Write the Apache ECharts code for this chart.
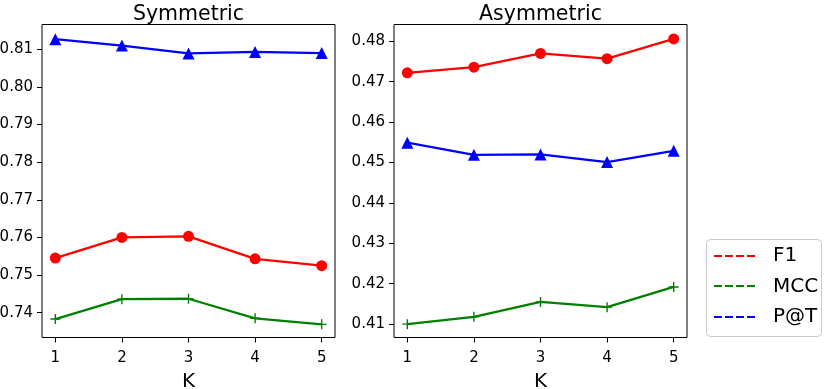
<!DOCTYPE html>
<html>
<head>
<meta charset="utf-8">
<script src="https://cdn.jsdelivr.net/npm/echarts@6/dist/echarts.min.js"></script>
<style>
  html, body { margin: 0; padding: 0; background: #fff; }
  #chart { width: 830px; height: 389px; }
</style>
</head>
<body>
<div id="chart"></div>
<script>
// K values shared by both panels
const kValues = [1, 2, 3, 4, 5]

// Symmetric panel
const symF1 = [0.7545, 0.7600, 0.7603, 0.7543, 0.7525]
const symMCC = [0.7383, 0.7436, 0.7437, 0.7385, 0.7369]
const symPT = [0.8127, 0.8110, 0.8089, 0.8093, 0.8090]
const symTicks = [0.74, 0.75, 0.76, 0.77, 0.78, 0.79, 0.80, 0.81]

// Asymmetric panel
const asymF1 = [0.4722, 0.4736, 0.4770, 0.4757, 0.4806]
const asymMCC = [0.4100, 0.4118, 0.4155, 0.4142, 0.4192]
const asymPT = [0.4549, 0.4519, 0.4520, 0.4501, 0.4529]
const asymTicks = [0.41, 0.42, 0.43, 0.44, 0.45, 0.46, 0.47, 0.48]

const FONT = 'DejaVu Sans'
const RED = '#ff0000'
const GREEN = '#008000'
const BLUE = '#0000ff'
const PLUS = 'path://M4.3,0h1.4v4.3H10v1.4H5.7V10H4.3V5.7H0V4.3H4.3z'

// legend entries (drawn as dashed keys in a framed box)
const legendNames = ['F1', 'MCC', 'P@T']
const legendColors = [RED, GREEN, BLUE]

const chart = echarts.init(document.getElementById('chart'))

function pairs(ys) {
  return kValues.map((k, i) => [k, ys[i]])
}

function xAxis(idx) {
  return {
    type: 'value',
    gridIndex: idx,
    min: 0.8,
    max: 5.2,
    name: 'K',
    nameLocation: 'middle',
    nameGap: 34,
    nameTextStyle: { fontFamily: FONT, fontSize: 20, color: '#000' },
    axisLine: { show: false },
    axisTick: { show: true, length: 5, customValues: kValues, lineStyle: { color: '#000' } },
    axisLabel: { customValues: kValues, margin: 13, fontFamily: FONT, fontSize: 15, color: '#000' },
    splitLine: { show: false }
  }
}

function yAxis(idx, lo, hi, ticks) {
  return {
    type: 'value',
    gridIndex: idx,
    min: lo,
    max: hi,
    axisLine: { show: false },
    axisTick: { show: true, length: 5, customValues: ticks, lineStyle: { color: '#000' } },
    axisLabel: {
      customValues: ticks,
      margin: 9,
      fontFamily: FONT,
      fontSize: 15,
      color: '#000',
      formatter: (v) => v.toFixed(2)
    },
    splitLine: { show: false }
  }
}

function line(name, idx, ys, color, symbol, size) {
  return {
    name: name,
    type: 'line',
    xAxisIndex: idx,
    yAxisIndex: idx,
    data: pairs(ys),
    symbol: symbol,
    symbolSize: size,
    showSymbol: true,
    color: color,
    lineStyle: { color: color, width: 2.3 },
    itemStyle: { color: color },
    animation: false
  }
}

// legend box, dashed keys and labels
const legendGraphics = [
  {
    type: 'rect',
    shape: { x: 706.5, y: 239.5, width: 115, height: 97, r: 4 },
    style: { fill: '#fff', stroke: '#cccccc', lineWidth: 1 },
    z: 5
  }
]
legendNames.forEach((name, i) => {
  const y = 256 + i * 30.3
  legendGraphics.push({
    type: 'line',
    shape: { x1: 714, y1: Math.round(y), x2: 755, y2: Math.round(y) },
    style: { stroke: legendColors[i], lineWidth: 2, lineDash: [8, 3] },
    z: 10
  })
  legendGraphics.push({
    type: 'text',
    x: 773,
    y: y,
    style: { text: name, fontFamily: FONT, fontSize: 20, fill: '#000', verticalAlign: 'middle' },
    z: 10
  })
})

const option = {
  backgroundColor: '#fff',
  animation: false,
  title: [
    { text: 'Symmetric', left: 183.5, top: -1, textAlign: 'center',
      textStyle: { fontFamily: FONT, fontSize: 20.5, fontWeight: 'normal', color: '#000' } },
    { text: 'Asymmetric', left: 535.5, top: -1, textAlign: 'center',
      textStyle: { fontFamily: FONT, fontSize: 20.5, fontWeight: 'normal', color: '#000' } }
  ],
  grid: [
    { left: 42, top: 24.5, width: 293, height: 313, outerBoundsMode: 'none', containLabel: false,
      show: true, borderColor: '#000', borderWidth: 1, backgroundColor: 'transparent' },
    { left: 394, top: 24.5, width: 293, height: 313, outerBoundsMode: 'none', containLabel: false,
      show: true, borderColor: '#000', borderWidth: 1, backgroundColor: 'transparent' }
  ],
  xAxis: [xAxis(0), xAxis(1)],
  yAxis: [
    yAxis(0, 0.7334, 0.8166, symTicks),
    yAxis(1, 0.40669, 0.48416, asymTicks)
  ],
  graphic: legendGraphics,
  series: [
    line('F1', 0, symF1, RED, 'circle', 11),
    line('MCC', 0, symMCC, GREEN, PLUS, 10),
    line('P@T', 0, symPT, BLUE, 'triangle', 12),
    line('F1', 1, asymF1, RED, 'circle', 11),
    line('MCC', 1, asymMCC, GREEN, PLUS, 10),
    line('P@T', 1, asymPT, BLUE, 'triangle', 12)
  ]
}

chart.setOption(option)
</script>
</body>
</html>
